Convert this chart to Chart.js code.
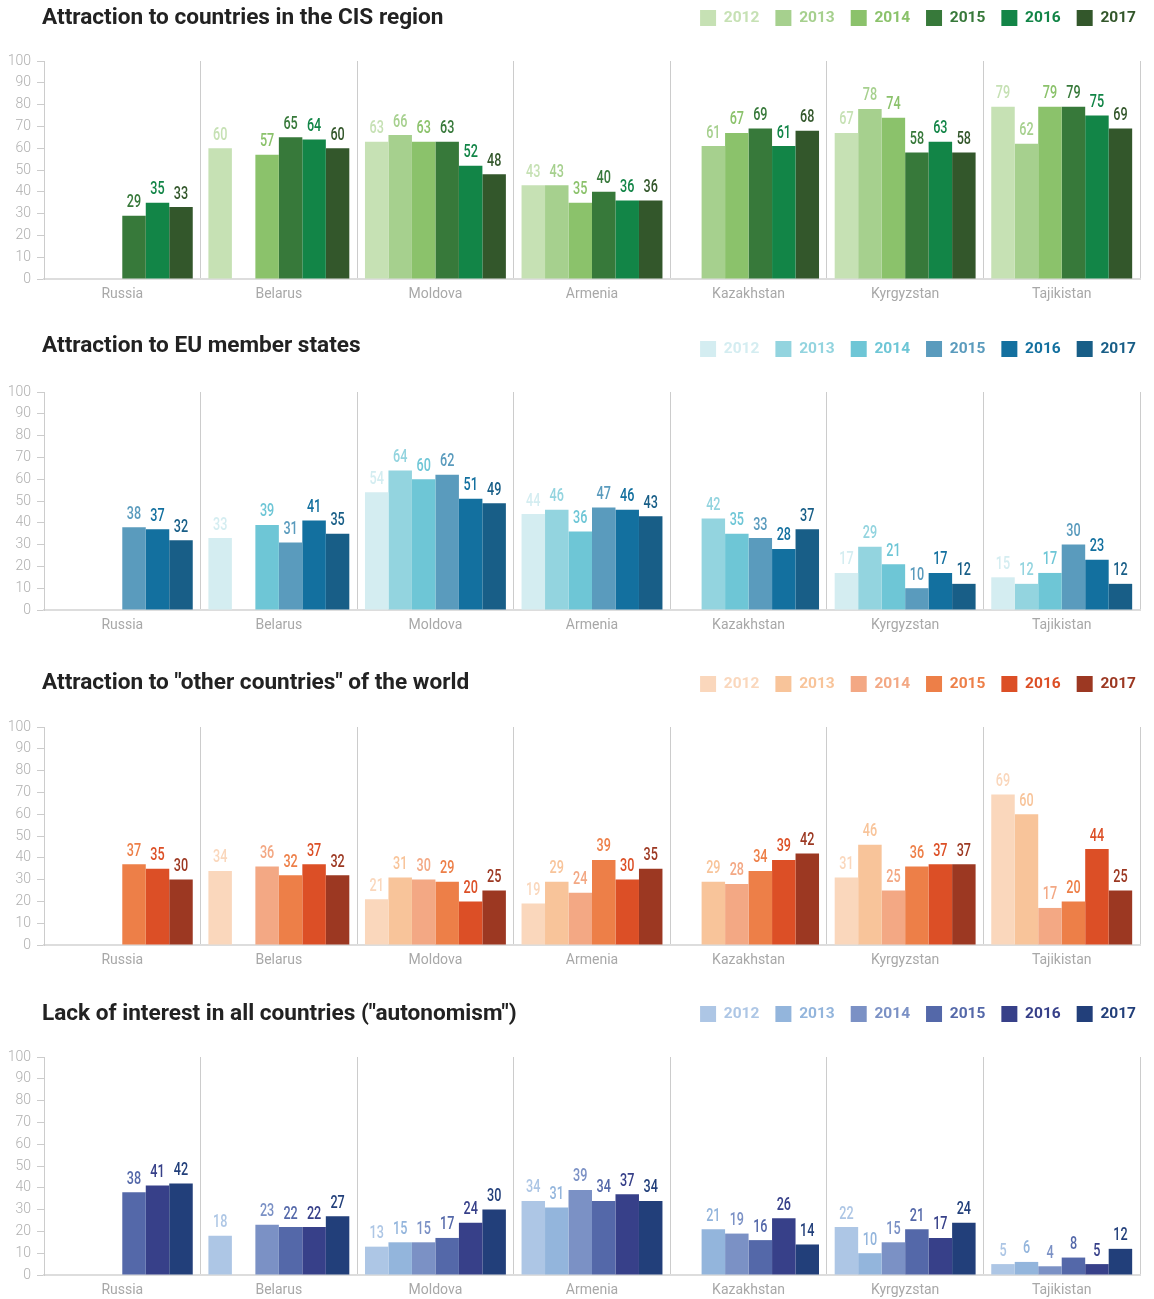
<!DOCTYPE html>
<html>
<head>
<meta charset="utf-8">
<script src="https://cdn.jsdelivr.net/npm/chart.js@4.4.1/dist/chart.umd.min.js"></script>
<style>
html,body{margin:0;padding:0;background:#fff;}
body{width:1154px;height:1299px;position:relative;overflow:hidden;font-family:Roboto,"Noto Sans",sans-serif;}
.panel{position:absolute;left:0;width:1154px;height:318px;}
.panel canvas{position:absolute;left:0;top:0;}
.panel h2{position:absolute;left:42px;margin:0;font:700 22.6px/22px Roboto,"Noto Sans",sans-serif;color:#222;white-space:nowrap;}
</style>
</head>
<body>
<script>
// ---------- data ----------
const categories = ['Russia', 'Belarus', 'Moldova', 'Armenia', 'Kazakhstan', 'Kyrgyzstan', 'Tajikistan'];
const years = ['2012', '2013', '2014', '2015', '2016', '2017'];
const yMin = 0, yMax = 100, yStep = 10;

const titles = [
  'Attraction to countries in the CIS region',
  'Attraction to EU member states',
  'Attraction to "other countries" of the world',
  'Lack of interest in all countries ("autonomism")'
];

// one row per year (2012..2017), values per country in category order
const cisValues = [
  [null, 60, 63, 43, null, 67, 79],
  [null, null, 66, 43, 61, 78, 62],
  [null, 57, 63, 35, 67, 74, 79],
  [29, 65, 63, 40, 69, 58, 79],
  [35, 64, 52, 36, 61, 63, 75],
  [33, 60, 48, 36, 68, 58, 69]
];
const euValues = [
  [null, 33, 54, 44, null, 17, 15],
  [null, null, 64, 46, 42, 29, 12],
  [null, 39, 60, 36, 35, 21, 17],
  [38, 31, 62, 47, 33, 10, 30],
  [37, 41, 51, 46, 28, 17, 23],
  [32, 35, 49, 43, 37, 12, 12]
];
const otherValues = [
  [null, 34, 21, 19, null, 31, 69],
  [null, null, 31, 29, 29, 46, 60],
  [null, 36, 30, 24, 28, 25, 17],
  [37, 32, 29, 39, 34, 36, 20],
  [35, 37, 20, 30, 39, 37, 44],
  [30, 32, 25, 35, 42, 37, 25]
];
const autonomyValues = [
  [null, 18, 13, 34, null, 22, 5],
  [null, null, 15, 31, 21, 10, 6],
  [null, 23, 15, 39, 19, 15, 4],
  [38, 22, 17, 34, 16, 21, 8],
  [41, 22, 24, 37, 26, 17, 5],
  [42, 27, 30, 34, 14, 24, 12]
];

// ---------- styles ----------
const greenPalette  = ['#c6e1b4', '#a6d08e', '#8bc26b', '#37793a', '#128547', '#33572b'];
const bluePalette   = ['#d4edf1', '#93d4df', '#6ec6d6', '#5a9bbd', '#13709f', '#185e87'];
const orangePalette = ['#fad7bc', '#f8c49a', '#f3a884', '#ed7f48', '#dc4f26', '#9c3822'];
const navyPalette   = ['#adc6e5', '#93b5dc', '#7b91c5', '#5468a9', '#374089', '#223f7a'];

const panels = [
  { values: cisValues, palette: greenPalette, top: -6, titleTop: 12 },
  { values: euValues, palette: bluePalette, top: 325, titleTop: 8.5 },
  { values: otherValues, palette: orangePalette, top: 660, titleTop: 11 },
  { values: autonomyValues, palette: navyPalette, top: 990, titleTop: 11.5 }
];

const FONT = 'Roboto, "Noto Sans", sans-serif';

// draws value labels above each bar using the bar elements positioned by Chart.js
const barLabels = {
  id: 'barLabels',
  afterDatasetsDraw(chart) {
    const ctx = chart.ctx;
    ctx.save();
    ctx.font = '500 18px ' + FONT;
    ctx.textAlign = 'center';
    ctx.textBaseline = 'alphabetic';
    chart.data.datasets.forEach((ds, i) => {
      const meta = chart.getDatasetMeta(i);
      if (meta.hidden) return;
      meta.data.forEach((bar, j) => {
        const v = ds.data[j];
        if (v === null || v === undefined) return;
        ctx.save();
        ctx.translate(bar.x, bar.y - 8.5);
        ctx.scale(0.7, 1);
        ctx.fillStyle = ds.backgroundColor;
        ctx.fillText(String(v), 0, 0);
        ctx.restore();
      });
    });
    ctx.restore();
  }
};

// extra space between legend row and plot area
const legendGap = {
  id: 'legendGap',
  beforeInit(chart) {
    const fit = chart.legend.fit;
    chart.legend.fit = function () {
      fit.call(this);
      this.height += 25;
    };
  }
};

function build() {
  panels.forEach((p, idx) => {
    const div = document.createElement('div');
    div.className = 'panel';
    div.style.top = p.top + 'px';
    const canvas = document.createElement('canvas');
    canvas.width = 1154;
    canvas.height = 315;
    div.appendChild(canvas);
    const h = document.createElement('h2');
    h.textContent = titles[idx];
    h.style.top = p.titleTop + 'px';
    div.appendChild(h);
    document.body.appendChild(div);

    const datasets = years.map((yr, k) => ({
      label: yr,
      data: p.values[k],
      backgroundColor: p.palette[k],
      borderWidth: 0,
      categoryPercentage: 0.9,
      barPercentage: 1.0,
      yAxisID: 'y'
    }));

    new Chart(canvas, {
      type: 'bar',
      data: { labels: categories, datasets },
      plugins: [legendGap, barLabels],
      options: {
        responsive: false,
        animation: false,
        devicePixelRatio: 1,
        layout: { padding: { left: 0, right: 2, top: 0, bottom: 0 } },
        scales: {
          x: {
            grid: { offset: true, color: '#cccccc', lineWidth: 1, drawTicks: false },
            border: { color: '#dddddd', width: 2 },
            ticks: { color: '#a8a8a8', font: { family: FONT, size: 14 }, padding: 7 },
            afterFit(s) { s.height = 30; }
          },
          y: {
            min: yMin, max: yMax,
            ticks: { stepSize: yStep, color: '#b0b0b0', font: { family: FONT, size: 14, weight: '300' }, padding: 6 },
            grid: { drawOnChartArea: false, drawTicks: true, tickLength: 7, color: '#cccccc' },
            border: { color: '#cccccc', width: 1 },
            afterFit(s) { s.width = 44; }
          },
          yRight: {
            position: 'right',
            display: true,
            grid: { display: false, drawTicks: false },
            border: { display: false },
            ticks: { display: false },
            afterFit(s) { s.width = 12; }
          }
        },
        plugins: {
          tooltip: { enabled: false },
          title: { display: false },
          legend: {
            position: 'top',
            align: 'end',
            labels: {
              boxWidth: 16,
              boxHeight: 16,
              padding: 16,
              font: { family: FONT, size: 15.5, weight: 'bold' },
              generateLabels(chart) {
                const items = Chart.defaults.plugins.legend.labels.generateLabels(chart);
                items.forEach(it => { it.fontColor = it.fillStyle; it.lineWidth = 0; it.strokeStyle = 'rgba(0,0,0,0)'; });
                return items;
              }
            }
          }
        }
      }
    });
  });
}

const fontLoads = ['300 14px Roboto', '400 14px Roboto', '500 18px Roboto', '700 16px Roboto', '700 22px Roboto']
  .map(f => document.fonts.load(f).catch(() => null));
Promise.all(fontLoads).then(build, build);
</script>
</body>
</html>
